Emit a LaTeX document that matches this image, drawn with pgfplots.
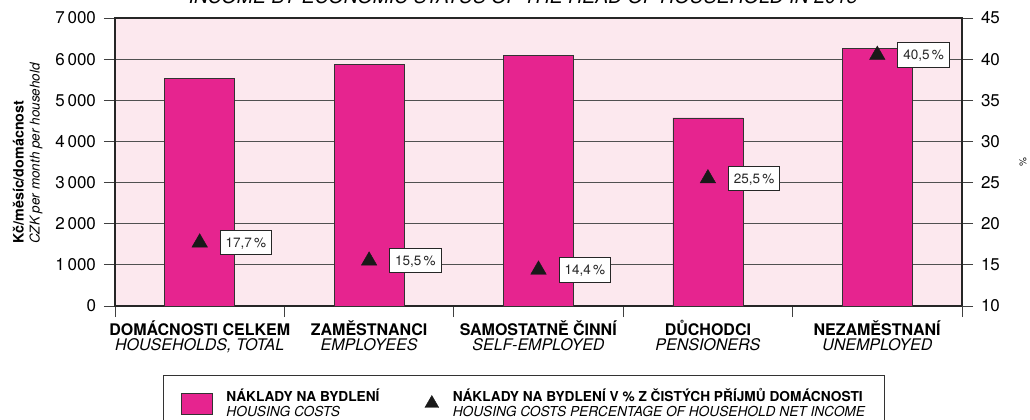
\documentclass[border=0pt]{standalone}
\usepackage{fontspec}
\setmainfont{TeX Gyre Heros}
\usepackage{pgfplots}
\usepackage{pgfplotstable}
\pgfplotsset{compat=1.18}

\definecolor{barmag}{HTML}{E6248F}
\definecolor{bgpink}{HTML}{FCE8EE}
\definecolor{gridgray}{HTML}{505050}
\newcommand\fs[2]{\fontsize{#1}{#2}\selectfont}

% housing costs, CZK per month per household
\pgfplotstableread{
x y
1 5530
2 5880
3 6080
4 4570
5 6250
}\costs

% housing costs as % of net income
\pgfplotstableread{
x y label
1 17.7 {17,7\,\%}
2 15.5 {15,5\,\%}
3 14.4 {14,4\,\%}
4 25.5 {25,5\,\%}
5 40.5 {40,5\,\%}
}\shares

\begin{document}
\begin{tikzpicture}
\pgfplotsset{
  common/.style={
    at={(0,0)}, anchor=south west,
    scale only axis, width=847pt, height=288pt,
    xmin=0.5, xmax=5.5,
    tick align=outside, major tick length=11pt,
    tick style={draw=black!75, line width=0.9pt},
    axis line style={draw=black!85, line width=1.6pt},
    tick label style={font=\fs{17}{17}},
    /pgf/number format/assume math mode=true,
    /pgf/number format/1000 sep={\,},
    clip=false,
  }
}
\begin{axis}[common,
  ymin=0, ymax=7000, ytick={0,1000,...,7000},
  ytick pos=left, xtick pos=left,
  yticklabel style={xshift=-4.5pt},
  xtick={0.5,1.5,...,5.5}, xticklabels={,,,,,},
  extra x ticks={1,2,3,4,5},
  extra x tick labels={
    {\textbf{DOMÁCNOSTI CELKEM}\\\textit{HOUSEHOLDS, TOTAL}},
    {\textbf{ZAMĚSTNANCI}\\\textit{EMPLOYEES}},
    {\textbf{SAMOSTATNĚ ČINNÍ}\\\textit{SELF-EMPLOYED}},
    {\textbf{DŮCHODCI}\\\textit{PENSIONERS}},
    {\textbf{NEZAMĚSTNANÍ}\\\textit{UNEMPLOYED}}},
  extra x tick style={major tick length=0pt,
    tick label style={font=\fs{16}{15}, align=center, yshift=-11pt}},
  ymajorgrids, major grid style={draw=gridgray, line width=0.9pt},
  axis background/.style={fill=bgpink},
  ylabel={{\fs{14.3}{14.3}\bfseries Kč/měsíc/domácnost}\\\textit{CZK per month per household}},
  every axis y label/.style={at={(rel axis cs:-0.1208,0.2153)}, rotate=90,
    anchor=north west, align=left, font=\fs{13.5}{16}, inner sep=0pt},
  title={INCOME BY ECONOMIC STATUS OF THE HEAD OF HOUSEHOLD IN 2015},
  every axis title/.style={at={(rel axis cs:0.482,1.049)}, anchor=base,
    font=\fs{19.5}{20}\itshape, inner sep=0pt},
]
\addplot[ybar, bar width=70pt, fill=barmag, draw=black!80, line width=0.8pt]
  table[x=x, y=y] \costs;
\end{axis}

\begin{axis}[common,
  axis x line=none, axis y line*=right,
  ymin=10, ymax=45, ytick={10,15,...,45},
  yticklabel style={xshift=4.5pt},
  ylabel={\%},
  every axis y label/.style={at={(rel axis cs:1.072,0.5)}, rotate=90,
    anchor=center, font=\fs{10}{10}},
  legend style={at={(rel axis cs:0.0567,-0.2396)}, anchor=north west,
    draw=black!80, line width=1.3pt, fill=white,
    inner xsep=17pt, inner ysep=11pt, font=\fs{13.7}{15},
    cells={align=left, anchor=west, inner sep=0pt},
    legend columns=2,
    /tikz/every odd column/.append style={column sep=12pt},
    /tikz/every even column/.append style={column sep=43pt}},
  legend cell align=left,
]
\addlegendimage{legend image code/.code={
  \draw[fill=barmag, draw=black!80, line width=0.8pt] (0pt,-10.5pt) rectangle (31pt,10.5pt);}}
\addlegendentry{\textbf{NÁKLADY NA BYDLENÍ}\\\textit{HOUSING COSTS}}
\addplot[only marks, mark=triangle*, mark size=9pt,
  mark options={fill=black!90, draw=black!90, line width=0.4pt},
  nodes near coords, point meta=explicit symbolic,
  every node near coord/.append style={anchor=west, xshift=20pt,
    draw=black!85, line width=1pt, fill=white, text=black!85,
    font=\fs{13.5}{13.5}, inner xsep=5.5pt, inner ysep=7.5pt,
    text height=9.5pt, text depth=0pt},
  legend image code/.code={
    \draw[mark size=8pt, fill=black!90, draw=black!90, line width=0.4pt]
      plot[mark=triangle*] coordinates {(8.5pt,0pt)};}]
  table[x=x, y=y, meta=label] \shares;
\addlegendentry{\textbf{NÁKLADY NA BYDLENÍ V \% Z ČISTÝCH PŘÍJMŮ DOMÁCNOSTI}\\\textit{HOUSING COSTS PERCENTAGE OF HOUSEHOLD NET INCOME}}
\end{axis}
\pgfresetboundingbox
\useasboundingbox (-115pt,-114pt) rectangle (915pt,306pt);
\end{tikzpicture}
\end{document}
